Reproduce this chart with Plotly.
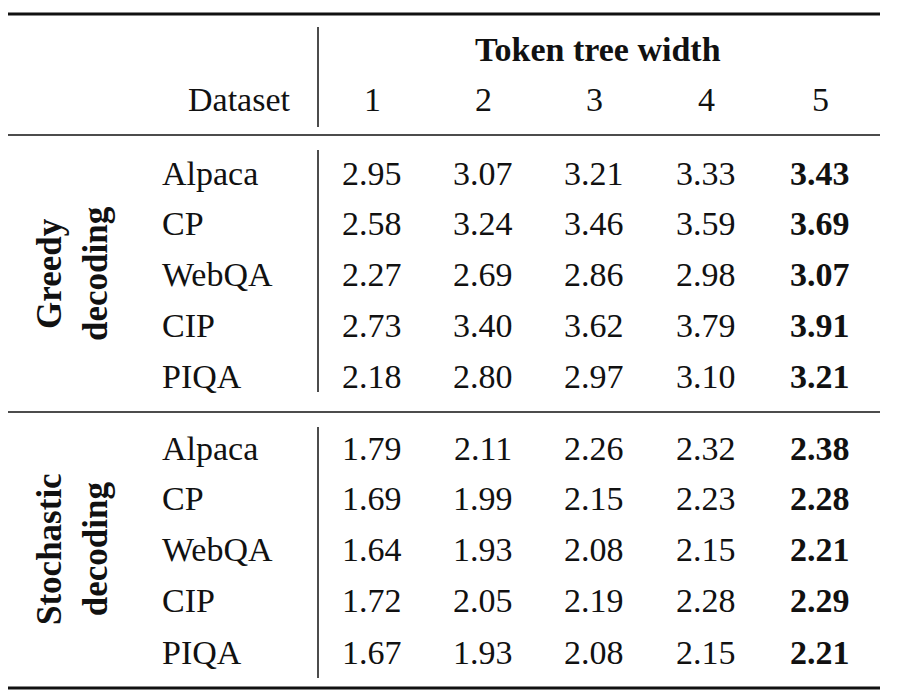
import plotly.graph_objects as go

widths = ["1", "2", "3", "4", "5"]
datasets = ["Alpaca", "CP", "WebQA", "CIP", "PIQA"]
greedy = [
    ["2.95", "3.07", "3.21", "3.33", "3.43"],
    ["2.58", "3.24", "3.46", "3.59", "3.69"],
    ["2.27", "2.69", "2.86", "2.98", "3.07"],
    ["2.73", "3.40", "3.62", "3.79", "3.91"],
    ["2.18", "2.80", "2.97", "3.10", "3.21"],
]
stochastic = [
    ["1.79", "2.11", "2.26", "2.32", "2.38"],
    ["1.69", "1.99", "2.15", "2.23", "2.28"],
    ["1.64", "1.93", "2.08", "2.15", "2.21"],
    ["1.72", "2.05", "2.19", "2.28", "2.29"],
    ["1.67", "1.93", "2.08", "2.15", "2.21"],
]

# layout positions (pixel-like axis units)
col_x = [372, 483, 594, 706, 820]
greedy_y = [171, 221, 272, 323, 374]
stoch_y = [446, 496, 547, 598, 650]
FONT = "Liberation Serif"
SIZE = 34

fig = go.Figure()
ann = []


def txt(x, y, s, bold=False, anchor="center", size=SIZE, angle=0):
    ann.append(dict(x=x, y=y, text=f"<b>{s}</b>" if bold else s, showarrow=False,
                    xanchor=anchor, yanchor="middle", textangle=angle,
                    font=dict(family=FONT, size=size, color="#111")))


txt(598, 47, "Token tree width", bold=True)
txt(293, 97, "Dataset", anchor="right")
for x, w in zip(col_x, widths):
    txt(x, 97, w)

for block, ys in [(greedy, greedy_y), (stochastic, stoch_y)]:
    for name, row, y in zip(datasets, block, ys):
        txt(160, y, name, anchor="left")
        for i, (x, v) in enumerate(zip(col_x, row)):
            txt(x, y, v, bold=(i == len(row) - 1))

txt(72, 272, "Greedy<br>decoding", bold=True, angle=-90, size=35)
txt(72, 547, "Stochastic<br>decoding", bold=True, angle=-90, size=35)

shapes = []
for y, w in [(12, 3), (133, 1.5), (410, 1.5), (686, 3)]:
    shapes.append(dict(type="line", x0=5, x1=880, y0=y, y1=y, line=dict(color="#111", width=w)))
for y0, y1 in [(25, 125), (148, 390), (425, 676)]:
    shapes.append(dict(type="line", x0=318, x1=318, y0=y0, y1=y1, line=dict(color="#111", width=1.5)))

fig.update_layout(
    width=897, height=696, margin=dict(l=0, r=0, t=0, b=0),
    plot_bgcolor="white", paper_bgcolor="white",
    xaxis=dict(range=[8, 905], visible=False, fixedrange=True),
    yaxis=dict(range=[702, 6], visible=False, fixedrange=True),
    annotations=ann, shapes=shapes, showlegend=False,
)
fig.write_html("out.html")
